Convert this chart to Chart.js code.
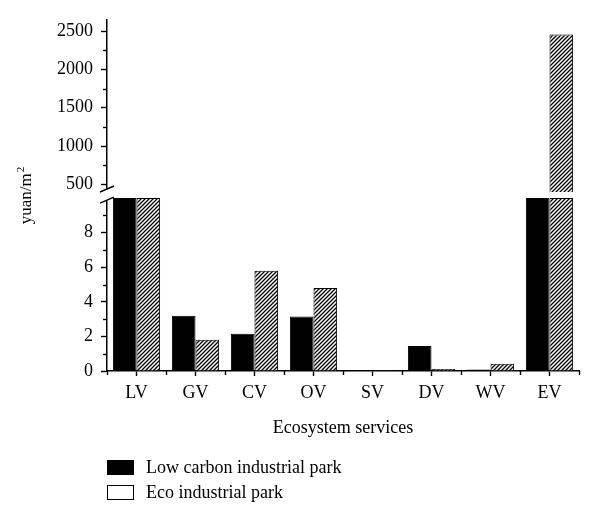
<!DOCTYPE html>
<html><head><meta charset="utf-8">
<script src="https://cdn.jsdelivr.net/npm/chart.js@4.4.0/dist/chart.umd.min.js"></script>
<style>
html,body{margin:0;padding:0;background:#fff;}
#wrap{position:relative;width:600px;height:521px;}
#c{position:absolute;left:0;top:0;}
#legend{position:absolute;left:107px;top:455px;font-family:"Liberation Serif",serif;font-size:18px;color:#000;}
.item{display:flex;align-items:center;height:25px;}
.box{box-sizing:border-box;width:27px;height:15px;border:1.5px solid #000;margin-right:12px;}
</style></head>
<body><div id="wrap"><canvas id="c" width="600" height="521"></canvas><div id="legend"></div></div>
<script>
const categories = ['LV','GV','CV','OV','SV','DV','WV','EV'];
const seriesNames = ['Low carbon industrial park','Eco industrial park'];
// values above the axis break (LV, EV low carbon) only show as reaching the break
const lowCarbon = [60, 3.2, 2.15, 3.15, 0.05, 1.45, 0.08, 300];
const ecoPark   = [60, 1.8, 5.8, 4.8, 0.05, 0.12, 0.42, 2455];
const lowerTicks = [0, 2, 4, 6, 8];
const lowerMinorTicks = [1, 3, 5, 7, 9];
const upperTicks = [500, 1000, 1500, 2000, 2500];
const upperMinorTicks = [750, 1250, 1750, 2250];
const lowerRange = [0, 10];
const upperRange = [400, 2645];

const FONT = '"Liberation Serif", serif';

function hatch(){
  const c = document.createElement('canvas'); c.width = 4; c.height = 4;
  const x = c.getContext('2d');
  x.fillStyle = '#fff'; x.fillRect(0,0,4,4);
  x.strokeStyle = '#000'; x.lineWidth = 1.3;
  x.beginPath();
  x.moveTo(-1,5); x.lineTo(5,-1);
  x.moveTo(-1,1); x.lineTo(1,-1);
  x.moveTo(3,5); x.lineTo(5,3);
  x.stroke();
  return x.createPattern(c, 'repeat');
}
const hatchFill = hatch();

const clampLow = v => Math.min(v, lowerRange[1]);
const upperOnly = v => v > upperRange[0] ? v : null;

const decor = {
  id: 'decor',
  afterDraw(chart){
    const ctx = chart.ctx;
    const y = chart.scales.y, yU = chart.scales.yU, x = chart.scales.x;
    const ax = y.right;
    ctx.save();
    ctx.strokeStyle = '#000'; ctx.lineWidth = 1.4;
    const line = (a,b,c,d) => { ctx.beginPath(); ctx.moveTo(a,b); ctx.lineTo(c,d); ctx.stroke(); };
    lowerMinorTicks.forEach(v => { const p = Math.round(y.getPixelForValue(v)) + 0.5; line(ax-4, p, ax, p); });
    upperMinorTicks.forEach(v => { const p = Math.round(yU.getPixelForValue(v)) + 0.5; line(ax-4, p, ax, p); });
    for (let i = 0; i <= categories.length; i++) {
      const p = Math.round(x.getPixelForValue(i - 0.5)) + 0.5;
      line(p, x.top, p, x.top + 4);
    }
    // axis break
    const gTop = yU.bottom - 3, gBot = y.getPixelForValue(lowerRange[1]) + 2;
    ctx.fillStyle = '#fff';
    ctx.fillRect(ax - 3, gTop, 6, gBot - gTop);
    ctx.lineWidth = 1.4;
    line(ax - 7, gTop + 3, ax + 7, gTop - 3);
    line(ax - 7, gBot + 3, ax + 7, gBot - 3);
    // y title
    const cy = (yU.top + y.bottom) / 2;
    ctx.translate(31, cy);
    ctx.rotate(-Math.PI/2);
    ctx.fillStyle = '#000';
    ctx.textBaseline = 'alphabetic';
    ctx.font = '17px ' + FONT;
    const main = 'yuan/m';
    const w1 = ctx.measureText(main).width;
    ctx.font = '11px ' + FONT;
    const w2 = ctx.measureText('2').width;
    const start = -(w1 + w2 + 1) / 2;
    ctx.font = '17px ' + FONT;
    ctx.fillText(main, start, 0);
    ctx.font = '11px ' + FONT;
    ctx.fillText('2', start + w1 + 1, -7);
    ctx.restore();
  }
};

const tickFont = { family: FONT, size: 18 };
const yCommon = {
  type: 'linear', position: 'left', stack: 'ys', stacked: false,
  grid: { display: true, drawOnChartArea: false, tickLength: 6, tickColor: '#000', tickWidth: 1.4 },
  border: { display: true, color: '#000', width: 1.5 },
  ticks: { font: tickFont, color: '#000', padding: 8, callback: v => String(v) },
  afterFit(s){ s.width = 107; }
};

new Chart(document.getElementById('c'), {
  type: 'bar',
  data: {
    labels: categories,
    datasets: [
      { label: seriesNames[0], data: lowCarbon.map(clampLow), yAxisID: 'y', stack: 'a', backgroundColor: '#000', borderColor: '#000', borderWidth: 1 },
      { label: seriesNames[1], data: ecoPark.map(clampLow), yAxisID: 'y', stack: 'b', backgroundColor: hatchFill, borderColor: '#000', borderWidth: 1 },
      { label: seriesNames[0], data: lowCarbon.map(upperOnly), yAxisID: 'yU', stack: 'a', base: upperRange[0], backgroundColor: '#000', borderColor: '#000', borderWidth: 1 },
      { label: seriesNames[1], data: ecoPark.map(upperOnly), yAxisID: 'yU', stack: 'b', base: upperRange[0], backgroundColor: hatchFill, borderColor: '#000', borderWidth: 1 }
    ]
  },
  options: {
    responsive: false, animation: false,
    barPercentage: 1, categoryPercentage: 0.8,
    layout: { padding: { top: 20, right: 21, left: 0, bottom: 78 } },
    plugins: { legend: { display: false }, tooltip: { enabled: false } },
    scales: {
      x: {
        type: 'category', offset: true,
        grid: { display: true, drawOnChartArea: false, offset: false, tickLength: 5, tickColor: '#000', tickWidth: 1.4 },
        border: { display: true, color: '#000', width: 1.5 },
        ticks: { font: tickFont, color: '#000', padding: 6 },
        title: { display: true, text: 'Ecosystem services', font: { family: FONT, size: 18 }, color: '#000', padding: { top: 4, bottom: 4 } },
        afterFit(s){ s.height = 72; }
      },
      y: Object.assign({}, yCommon, {
        stackWeight: 179, min: lowerRange[0], max: 10.35,
        afterBuildTicks(s){ s.ticks = lowerTicks.map(v => ({ value: v })); }
      }),
      yU: Object.assign({}, yCommon, {
        stackWeight: 172, min: upperRange[0], max: upperRange[1],
        afterBuildTicks(s){ s.ticks = upperTicks.map(v => ({ value: v })); }
      })
    }
  },
  plugins: [decor]
});

// legend
const lg = document.getElementById('legend');
const fills = ['#000', '#fff'];
seriesNames.forEach((n, i) => {
  const it = document.createElement('div'); it.className = 'item';
  const b = document.createElement('div'); b.className = 'box'; b.style.background = fills[i];
  const t = document.createElement('span'); t.textContent = n;
  it.appendChild(b); it.appendChild(t); lg.appendChild(it);
});
</script>
</body></html>
